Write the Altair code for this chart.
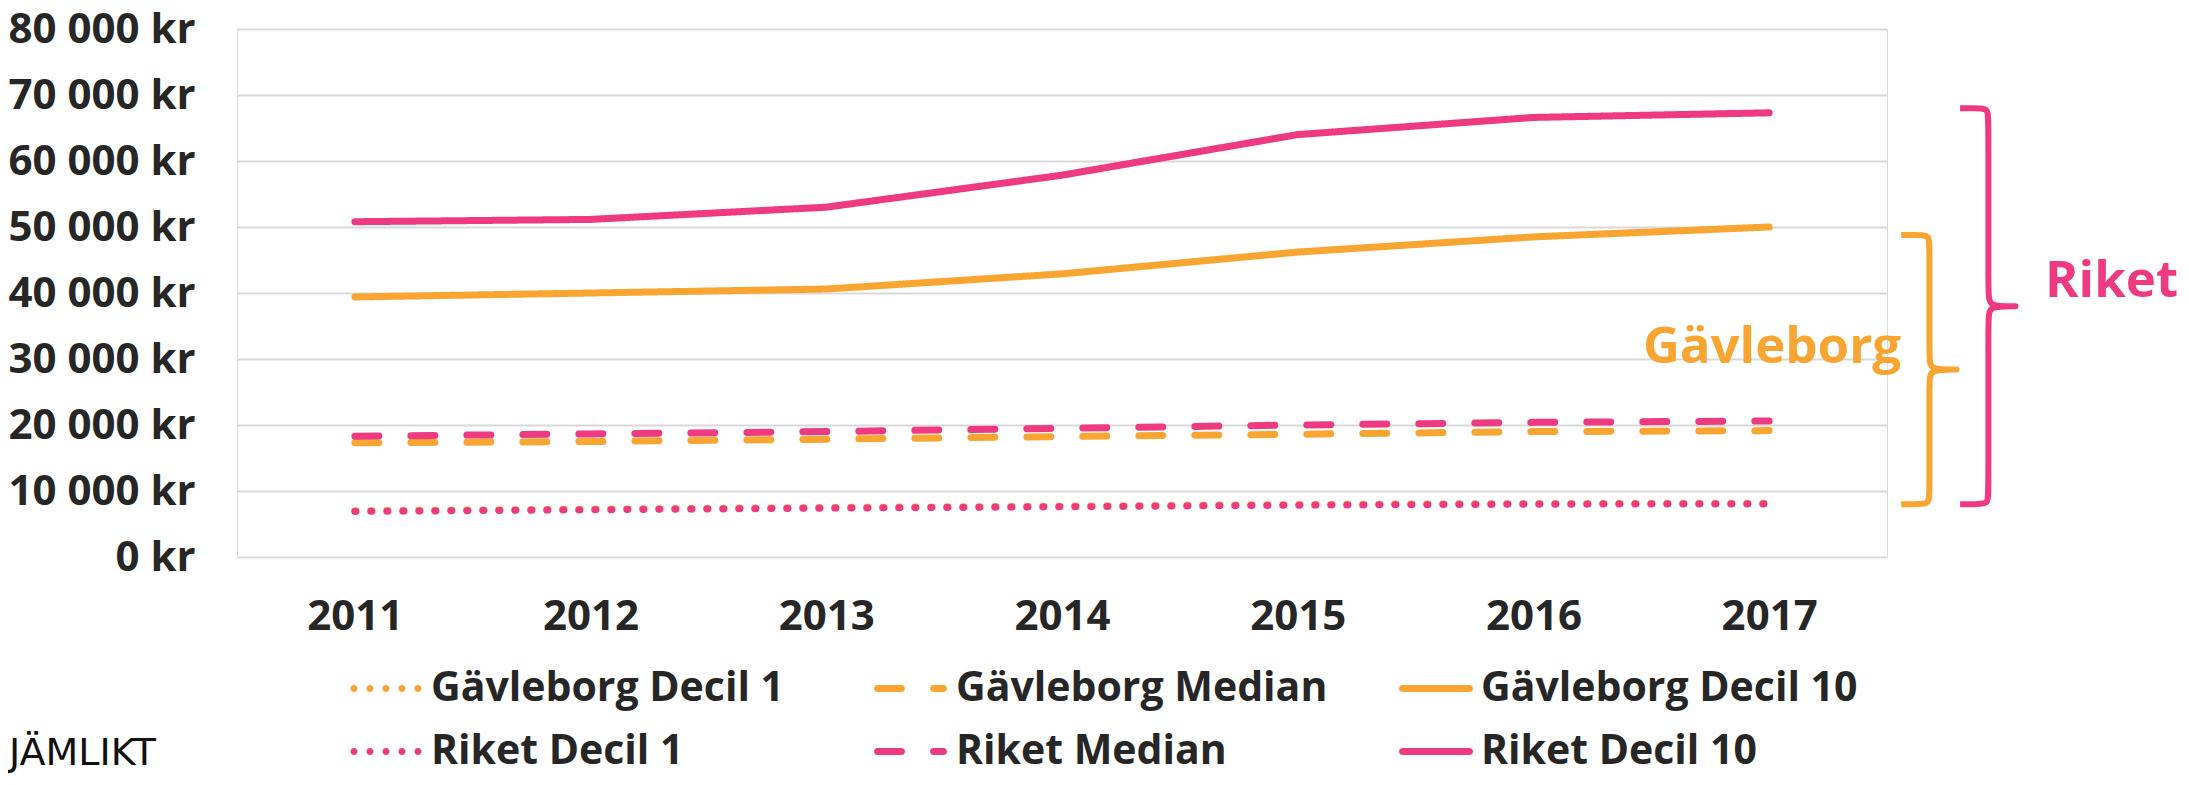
import altair as alt
import pandas as pd

# ---------------- data ----------------
years = [2011, 2012, 2013, 2014, 2015, 2016, 2017]
gavleborg_decil1 = [7000, 7250, 7500, 7700, 7950, 8100, 8150]
gavleborg_median = [17300, 17500, 17850, 18250, 18600, 19000, 19150]
gavleborg_decil10 = [39400, 40000, 40600, 42900, 46200, 48500, 50000]
riket_decil1 = [6900, 7150, 7400, 7600, 7850, 8000, 8050]
riket_median = [18300, 18650, 19000, 19500, 20000, 20400, 20600]
riket_decil10 = [50800, 51150, 53000, 57850, 64000, 66600, 67300]

series_names = ["Gävleborg Decil 1", "Gävleborg Median", "Gävleborg Decil 10",
                "Riket Decil 1", "Riket Median", "Riket Decil 10"]
series_values = [gavleborg_decil1, gavleborg_median, gavleborg_decil10,
                 riket_decil1, riket_median, riket_decil10]
series_style = ["dotted", "dashed", "solid", "dotted", "dashed", "solid"]
y_ticks = [0, 10000, 20000, 30000, 40000, 50000, 60000, 70000, 80000]

# bracket annotations (value ranges they enclose)
brace_labels = ["Gävleborg", "Riket"]
brace_top = [48800, 68000]
brace_bottom = [8000, 8000]

ORANGE = "#F8A532"
PINK = "#EE3A81"
TEXT = "#262626"
FONT = "Open Sans"

rows = []
for name, vals, sty in zip(series_names, series_values, series_style):
    for yr, v in zip(years, vals):
        rows.append({"series": name, "style": sty, "year": yr, "value": v})
df = pd.DataFrame(rows)

x_scale = alt.Scale(domain=[2010.5, 2017.5], nice=False, zero=False)
y_scale = alt.Scale(domain=[0, 80000], nice=False)
series_colors = [ORANGE, ORANGE, ORANGE, PINK, PINK, PINK]
color_scale = alt.Scale(domain=series_names, range=series_colors)

x_axis = alt.Axis(values=years, format="d", title=None, grid=False, domain=False,
                  ticks=False, labelPadding=39, labelFontSize=42, labelFont=FONT,
                  labelFontWeight="bold", labelColor=TEXT)
y_axis = alt.Axis(values=y_ticks, title=None, domain=False, ticks=False,
                  labelExpr="replace(format(datum.value, ','), ',', ' ') + ' kr'",
                  labelPadding=42, labelFontSize=42, labelFont=FONT, labelLimit=500,
                  labelFontWeight="bold", labelColor=TEXT,
                  gridColor="#D9D9D9", gridWidth=2)

# ---- legend symbols: custom SVG paths (unit box [-1,1], symbol 74 px wide) ----
U = 37.0  # px per unit
R = 3.5 / U


def pill(x1, x2):
    a, b = x1 / U, x2 / U
    return (f"M{a:.4f},{-R:.4f}L{b:.4f},{-R:.4f}A{R:.4f},{R:.4f} 0 0 1 {b:.4f},{R:.4f}"
            f"L{a:.4f},{R:.4f}A{R:.4f},{R:.4f} 0 0 1 {a:.4f},{-R:.4f}Z")


def dot(cx):
    c = cx / U
    return (f"M{c - R:.4f},0A{R:.4f},{R:.4f} 0 1 0 {c + R:.4f},0"
            f"A{R:.4f},{R:.4f} 0 1 0 {c - R:.4f},0Z")


sym_paths = {
    "dotted": "".join(dot(cx) for cx in (-32, -16, 0, 16, 32)),
    "dashed": pill(-33.5, -9.5) + pill(22.5, 32.5),
    "solid": pill(-33.5, 33.5),
}
shape_range = [sym_paths[s] for s in series_style]

legend = alt.Legend(
    title=None, orient="none", legendX=112, legendY=639, direction="horizontal",
    columns=3, columnPadding=66, rowPadding=21, gridAlign="all",
    symbolSize=74 * 74, symbolStrokeWidth=0, symbolOpacity=1,
    clipHeight=41, labelOffset=8, labelFontSize=41, labelFont=FONT,
    labelFontWeight="bold", labelColor=TEXT, labelLimit=700, padding=0,
)

# invisible layer that drives the legend
legend_driver = alt.Chart(df).mark_point(filled=True, opacity=0, size=10).encode(
    x=alt.X("year:Q", scale=x_scale, axis=x_axis),
    y=alt.Y("value:Q", scale=y_scale, axis=y_axis),
    color=alt.Color("series:N", scale=color_scale, legend=legend),
    shape=alt.Shape("series:N", scale=alt.Scale(domain=series_names, range=shape_range), legend=legend),
)

dash_for = {"dotted": [1, 15], "dashed": [24, 32], "solid": [1, 0]}
layers = [legend_driver]
for sty in ["dotted", "dashed", "solid"]:
    layers.append(
        alt.Chart(df).transform_filter(alt.datum.style == sty).mark_line(
            strokeWidth=7, strokeCap="round", strokeJoin="round", strokeDash=dash_for[sty]
        ).encode(
            x=alt.X("year:Q", scale=x_scale, axis=x_axis),
            y=alt.Y("value:Q", scale=y_scale, axis=y_axis),
            color=alt.Color("series:N", scale=color_scale, legend=None),
            detail="series:N",
        )
    )


# ---------------- brackets ----------------
def brace_frame(x_end, top, bottom, w=0.12, c=1600):
    mid = (top + bottom) / 2
    s = x_end + w
    t = s + w
    pts = [(x_end, top), (x_end + 0.5 * w, top), (s, top), (s, top - c), (s, mid + c),
           (s, mid), (t, mid), (t, mid), (s, mid), (s, mid - c), (s, bottom + c),
           (s, bottom), (x_end + 0.5 * w, bottom), (x_end, bottom)]
    return pd.DataFrame({"i": list(range(len(pts))),
                         "x": [p[0] for p in pts], "y": [p[1] for p in pts]})


brace_x_end = [2017.56, 2017.81]
brace_colors = [ORANGE, PINK]
for xe, top, bot, col in zip(brace_x_end, brace_top, brace_bottom, brace_colors):
    layers.append(
        alt.Chart(brace_frame(xe, top, bot)).mark_line(
            interpolate="basis", strokeWidth=6, clip=False, strokeCap="butt"
        ).encode(
            x=alt.X("x:Q", scale=x_scale, axis=x_axis),
            y=alt.Y("y:Q", scale=y_scale, axis=y_axis),
            order="i:Q",
            color=alt.value(col),
        )
    )

# bracket labels
label_x = [2017.56, 2018.17]
label_y = [29400, 39400]
label_align = ["right", "left"]
for lab, lx, ly, al, col in zip(brace_labels, label_x, label_y, label_align, brace_colors):
    layers.append(
        alt.Chart(pd.DataFrame({"t": [lab], "x": [lx], "y": [ly]})).mark_text(
            align=al, baseline="alphabetic", font=FONT, fontSize=51,
            fontWeight="bold", color=col, clip=False
        ).encode(
            x=alt.X("x:Q", scale=x_scale, axis=x_axis),
            y=alt.Y("y:Q", scale=y_scale, axis=y_axis),
            text="t:N",
        )
    )

# source credit
layers.append(
    alt.Chart(pd.DataFrame({"t": ["JÄMLIKT"]})).mark_text(
        align="left", baseline="middle", font="DejaVu Sans", fontSize=38, color="#111111"
    ).encode(text="t:N", x=alt.value(-228), y=alt.value(725))
)

chart = alt.layer(*layers).properties(
    width=1650, height=528,
    padding={"left": 229, "top": 21, "right": 294, "bottom": 220},
    autosize=alt.AutoSizeParams(type="none"),
).configure_view(stroke=None).configure(font=FONT)

chart.save("out.html", embed_options={"renderer": "svg", "actions": False})
